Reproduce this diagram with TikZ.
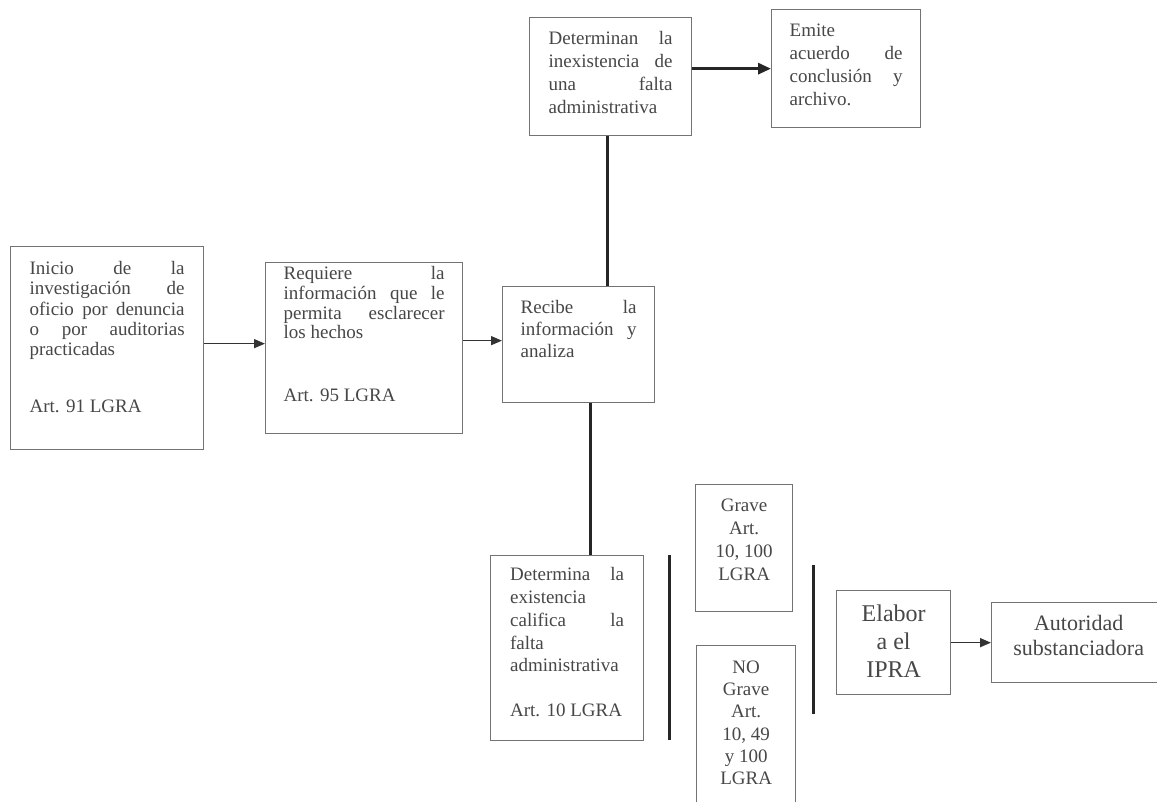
\documentclass[tikz,border=0pt]{standalone}
\usepackage{fontspec}
\setmainfont{Liberation Serif}
\usetikzlibrary{arrows.meta}
\newcommand{\jl}[1]{\makebox[\linewidth][s]{#1}\\}
% font size, baselineskip, height, width, top pad, content
\newcommand{\txtbox}[6]{\begin{minipage}[t][#3][t]{#4}\fontsize{#1}{#2}\selectfont\parindent=0pt\vspace*{#5}\strut #6\end{minipage}}
\begin{document}
\begin{tikzpicture}[x=1pt,y=-1pt,
  box/.style={draw=black!55, line width=1.3pt, fill=white, inner xsep=#1, inner ysep=0pt, anchor=north west, text=black!72},
  box/.default=18pt,
  thinarr/.style={draw=black!80, line width=1.4pt, -{Triangle[length=11pt,width=9pt]}},
  thickarr/.style={draw=black!85, line width=3pt, -{Triangle[length=13pt,width=11pt]}},
  thickline/.style={draw=black!85, line width=3pt}]
\useasboundingbox (0,0) rectangle (1157,801);
\fill[white] (0,0) rectangle (1157,801);
\clip (0,0) rectangle (1157,801);

\node[box=19pt] (inicio) at (10,246) {\txtbox{19}{20.4}{203pt}{155pt}{13.3pt}{%
\jl{Inicio de la}\jl{investigación de}\jl{oficio por denuncia}\jl{o por auditorias}practicadas\par\vspace{36.6pt}Art. 91 LGRA}};

\node[box=18pt] (requiere) at (265,262) {\txtbox{19}{19.6}{171pt}{161pt}{3.6pt}{%
\jl{Requiere la}\jl{información que le}\jl{permita esclarecer}los hechos\par\vspace{43pt}Art. 95 LGRA}};

\node[box=18pt] (recibe) at (502,286) {\txtbox{19}{22.2}{116pt}{116pt}{11pt}{%
\jl{Recibe la}\jl{información y}analiza}};

\node[box=19pt] (determinan) at (529,17) {\txtbox{19}{22.8}{118pt}{124pt}{11.3pt}{%
\jl{Determinan la}\jl{inexistencia de}\jl{una falta}administrativa}};

\node[box=18pt] (emite) at (771,9) {\txtbox{19}{22.8}{118pt}{113pt}{11pt}{%
Emite\\\jl{acuerdo de}\jl{conclusión y}archivo.}};

\node[box=19.5pt] (determina) at (490,555) {\txtbox{19}{22.7}{185pt}{114pt}{9.4pt}{%
\jl{Determina la}existencia\\\jl{califica la}falta\\administrativa\par\vspace{22.3pt}Art. 10 LGRA}};

\node[box=5pt] (grave) at (695,484) {\txtbox{19}{22.8}{127pt}{87pt}{11pt}{\centering
Grave\\Art.\\10, 100\\LGRA\par}};

\node[box=5pt] (nograve) at (696,645) {\txtbox{19}{22.3}{170pt}{89pt}{12pt}{\centering
NO\\Grave\\Art.\\10, 49\\y 100\\LGRA\par}};

\node[box=5pt] (elabor) at (836,590) {\txtbox{24}{28.3}{104pt}{104pt}{10.6pt}{\centering
Elabor\\a el\\IPRA\par}};

\node[box=5pt] (autoridad) at (991,602) {\txtbox{22}{25}{80pt}{164pt}{10.5pt}{\centering
Autoridad\\substanciadora\par}};

% connectors
\coordinate (c1) at ([yshift=4.5pt]requiere.west);
\draw[thinarr] (inicio.east |- c1) -- (c1);
\coordinate (c2) at ([yshift=4pt]recibe.west);
\draw[thinarr] (requiere.east |- c2) -- (c2);
\coordinate (c3) at ([xshift=-3pt]determinan.south);
\draw[thickline] (c3) -- (c3 |- recibe.north);
\coordinate (c4) at ([xshift=12pt]recibe.south);
\draw[thickline] (c4) -- (c4 |- determina.north);
\draw[thickarr] (determinan.east |- emite.west) -- (emite.west);
\draw[thinarr] (elabor.east) -- (autoridad.west |- elabor.east);

% separator bars
\coordinate (b1t) at (669.5,555);
\coordinate (b1b) at (669.5,740);
\draw[thickline] (b1t) -- (b1b);
\coordinate (b2t) at (813,565);
\coordinate (b2b) at (813,714);
\draw[thickline] (b2t) -- (b2b);
\end{tikzpicture}
\end{document}
